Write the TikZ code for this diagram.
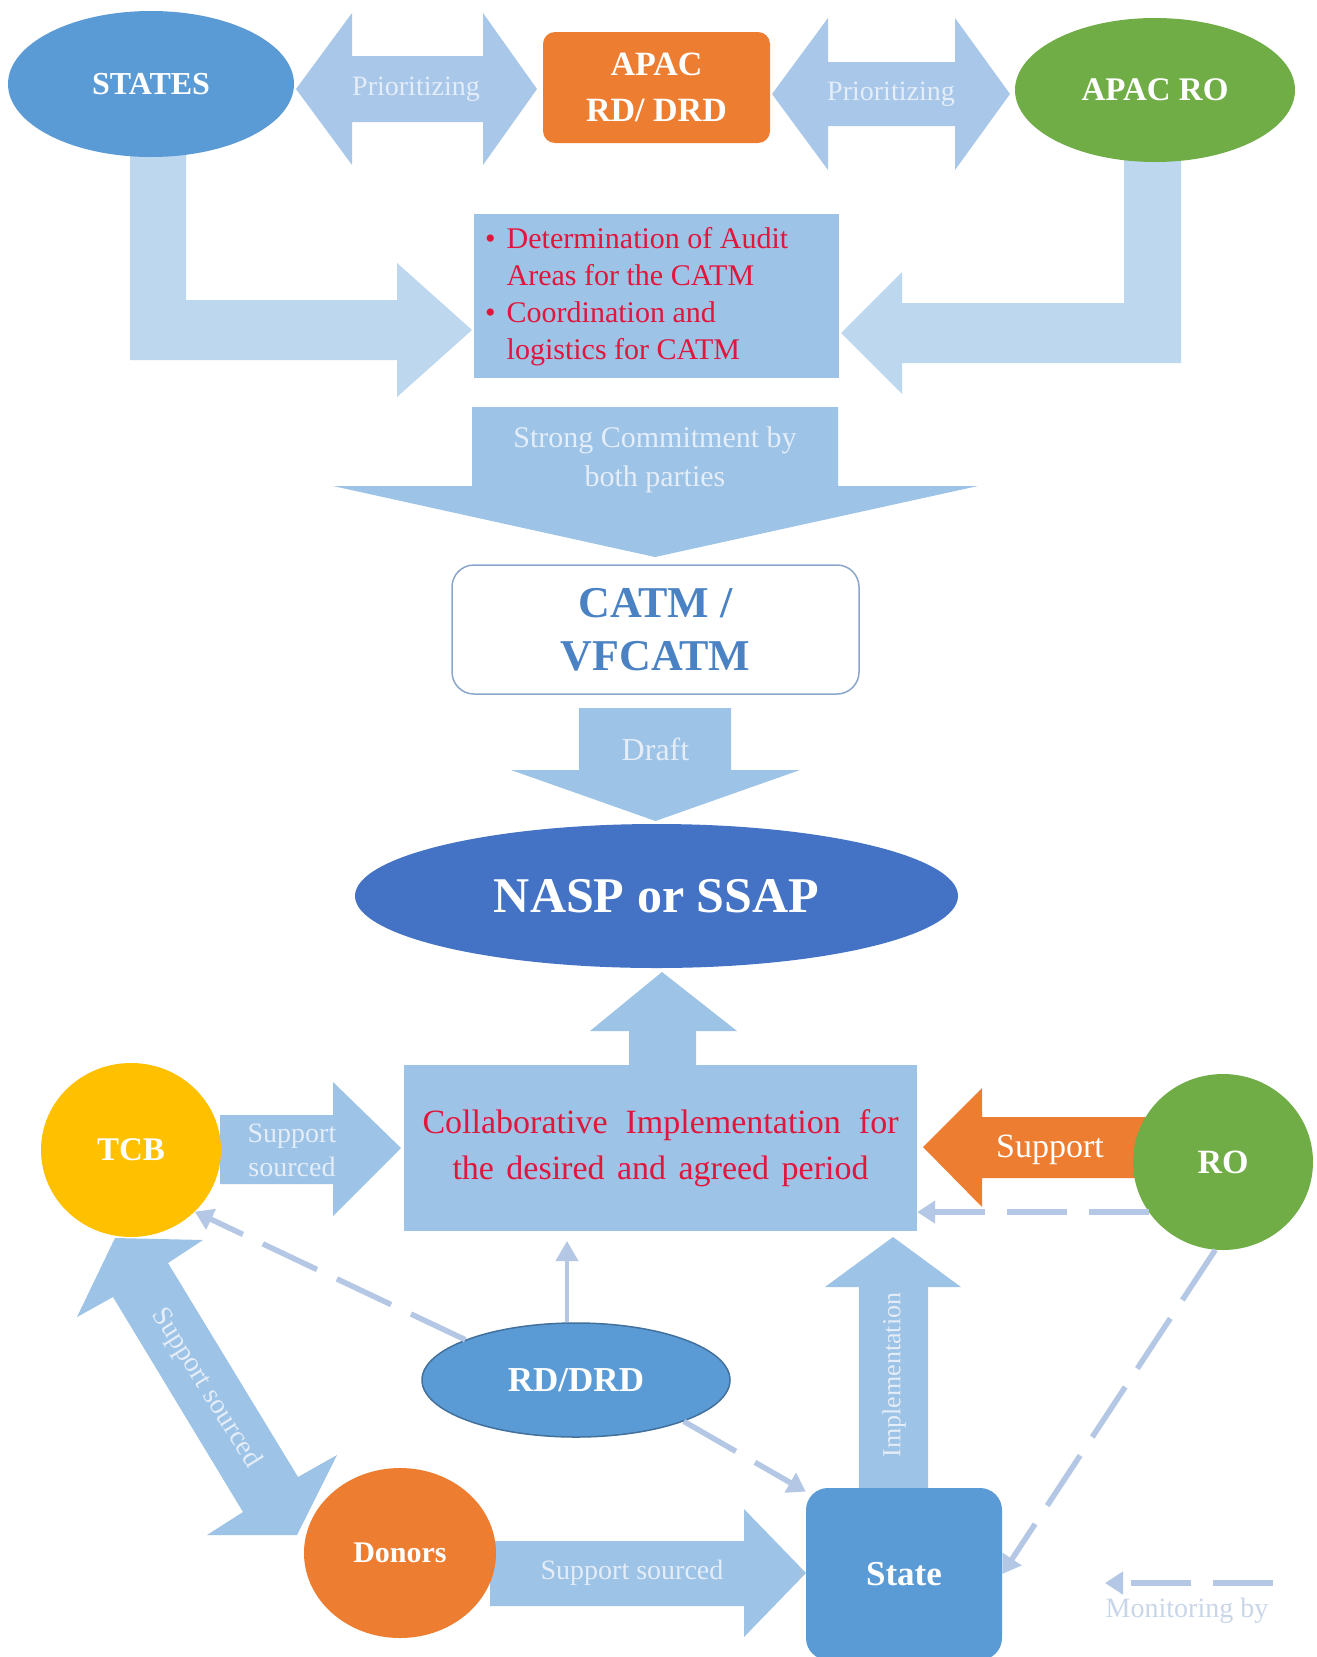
\documentclass[tikz,border=0pt]{standalone}
\usepackage{fontspec}
\setmainfont{Liberation Serif}
\usetikzlibrary{arrows.meta,shapes.geometric}
\definecolor{arrowblue}{HTML}{9DC3E6}
\definecolor{priblue}{HTML}{A9C8E9}
\definecolor{lblue}{HTML}{BDD7EE}
\definecolor{stblue}{HTML}{5B9BD5}
\definecolor{orng}{HTML}{ED7D31}
\definecolor{grn}{HTML}{70AD47}
\definecolor{naspblue}{HTML}{4472C4}
\definecolor{tcbyellow}{HTML}{FFC000}
\definecolor{redtxt}{HTML}{E0163C}
\definecolor{catmtxt}{HTML}{4A82C3}
\definecolor{lbltext}{HTML}{E4EDF8}
\definecolor{monit}{HTML}{B4C8E6}
\definecolor{montext}{HTML}{C9D6E8}
\definecolor{rdborder}{HTML}{41719C}
\definecolor{catmborder}{HTML}{8AA6CC}
\newcommand\fsz[2]{\fontsize{#1}{#2}\selectfont}
\begin{document}
\begin{tikzpicture}[x=1pt,y=-1pt,
  lbl/.style={text=lbltext, align=center, inner sep=0pt},
  oval/.style={ellipse, text=white, inner sep=0pt, align=center},
  box/.style={rectangle, inner sep=0pt, align=center},
  monitor/.style={draw=monit, line width=5.5pt, dash pattern=on 60pt off 22pt, -{Triangle[length=18pt,width=22pt]}},
  thinarr/.style={draw=monit, line width=4pt, -{Triangle[length=20pt,width=22pt]}},
]
\fill[white] (0,0) rectangle (1317,1657);
\useasboundingbox (0,0) rectangle (1317,1657);

% ---------- top block arrows ----------
\fill[priblue] (296,89) -- (352,13) -- (352,56) -- (483,56) -- (483,13) -- (537,89)
  -- (483,165) -- (483,122) -- (352,122) -- (352,165) -- cycle;
\fill[priblue] (772,94) -- (828,18) -- (828,62) -- (955,62) -- (955,18) -- (1010,94)
  -- (955,170) -- (955,126) -- (828,126) -- (828,170) -- cycle;
\fill[lblue] (130,140) -- (186,140) -- (186,300) -- (397,300) -- (397,263) -- (472,330)
  -- (397,397) -- (397,360) -- (130,360) -- cycle;
\fill[lblue] (1181,150) -- (1124,150) -- (1124,303) -- (902,303) -- (902,272) -- (841,333)
  -- (902,394) -- (902,363) -- (1181,363) -- cycle;
\fill[arrowblue] (472,407) -- (838,407) -- (838,486) -- (978,486) -- (655,557) -- (333,486)
  -- (472,486) -- cycle;
\fill[arrowblue] (579,708) -- (731,708) -- (731,770) -- (800,770) -- (655.5,821) -- (511,770)
  -- (579,770) -- cycle;

% ---------- top nodes ----------
\node[oval, fill=stblue, minimum width=286, minimum height=146, font=\bfseries\fsz{32}{38}] (states) at (151,84) {STATES};
\node[box, rounded corners=12pt, fill=orng, minimum width=227, minimum height=111, text=white, font=\bfseries\fsz{34}{46}] (apac) at (656.5,87.5) {APAC\\RD/ DRD};
\node[oval, fill=grn, minimum width=280, minimum height=144, font=\bfseries\fsz{33}{38}] (apacro) at (1155,90) {APAC RO};
\node[lbl, font=\fsz{28}{34}] (pri1) at (416,89) {Prioritizing};
\node[lbl, font=\fsz{28}{34}] (pri2) at (891,94) {Prioritizing};

\node[box, fill=arrowblue, minimum width=365, minimum height=164] (audit) at (656.5,296) {};
\node[text=redtxt, font=\fsz{30}{37}, anchor=west, inner sep=0pt] (audittxt) at (485,297)
  {\begin{tabular}{@{}l@{\hspace{11pt}}l@{}}\textbullet & Determination of Audit\\ & Areas for the CATM\\ \textbullet & Coordination and\\ & logistics for CATM\end{tabular}};

\node[lbl, font=\fsz{30}{39}] (commit) at (655,460) {Strong Commitment by\\both parties};
\node[box, rounded corners=22pt, draw=catmborder, line width=1.5pt, fill=white, minimum width=407, minimum height=129, text=catmtxt, font=\bfseries\fsz{44}{53}] (catm) at (655.5,629.5) {CATM /\\VFCATM};
\node[lbl, font=\fsz{32}{38}] (draft) at (655.5,749) {Draft};
\node[oval, fill=naspblue, minimum width=603, minimum height=144, font=\bfseries\fsz{50}{56}] (nasp) at (656.5,896) {NASP or SSAP};

% ---------- lower block arrows ----------
\fill[arrowblue] (629,1066) -- (629,1031) -- (590,1031) -- (662,972) -- (737,1031) -- (696,1031) -- (696,1066) -- cycle;
\fill[arrowblue] (220,1115) -- (333,1115) -- (333,1082) -- (401,1148) -- (333,1216) -- (333,1184) -- (220,1184) -- cycle;
\fill[orng] (1150,1117) -- (982,1117) -- (982,1088) -- (923,1147) -- (982,1207) -- (982,1178) -- (1150,1178) -- cycle;
\fill[arrowblue] (859,1490) -- (859,1287) -- (825,1287) -- (893,1237) -- (961,1287) -- (928,1287) -- (928,1490) -- cycle;
\fill[arrowblue] (490,1541) -- (744,1541) -- (744,1509) -- (806,1573) -- (744,1637) -- (744,1606) -- (490,1606) -- cycle;
\fill[arrowblue] (115,1238) -- (203,1240) -- (168,1263) -- (298,1477) -- (337,1455) -- (297,1535)
  -- (207,1535) -- (243,1512) -- (113,1297) -- (77,1317) -- cycle;

% ---------- lower nodes ----------
\node[box, fill=arrowblue, minimum width=513, minimum height=166, text=redtxt, font=\fsz{34}{46}] (collab) at (660.5,1148)
  {\makebox[476pt][s]{Collaborative Implementation for}\\\makebox[416pt][s]{the desired and agreed period}};
\node[oval, fill=tcbyellow, minimum width=180, minimum height=174, font=\bfseries\fsz{33}{38}] (tcb) at (131,1150) {TCB};
\node[oval, fill=grn, minimum width=180, minimum height=176, font=\bfseries\fsz{34}{38}] (ro) at (1223,1162) {RO};
\node[oval, fill=stblue, draw=rdborder, line width=1.5pt, minimum width=308, minimum height=114, font=\bfseries\fsz{35}{40}] (rd) at (576,1380) {RD/DRD};
\node[box, rounded corners=22pt, fill=stblue, minimum width=196, minimum height=172, text=white, font=\bfseries\fsz{35}{40}] (state) at (904,1574) {State};
\node[oval, fill=orng, minimum width=192, minimum height=170, font=\bfseries\fsz{30}{36}] (donors) at (400,1553) {Donors};

\node[lbl, font=\fsz{28}{34}] (sup1) at (292,1150) {Support\\sourced};
\node[text=white, inner sep=0pt, font=\fsz{34}{40}] (sup2) at (1050,1150) {Support};
\node[lbl, font=\fsz{26}{30}, rotate=90] (impl) at (894,1375) {Implementation};
\node[lbl, font=\fsz{28}{34}] (sup3) at (632,1573) {Support sourced};
\node[lbl, font=\fsz{28}{34}, rotate=-58] (sup4) at (206,1388) {Support sourced};

% ---------- connectors ----------
\coordinate (rdtip) at (567,1241);
\draw[thinarr] (rd.north -| rdtip) -- (rdtip);
\draw[monitor] (ro.214) -- (collab.east |- ro.214);
\draw[monitor] (rd.160) -- (tcb.-44);
\draw[monitor] (rd.-21) -- (state.140);
\draw[monitor] (ro.-95) -- (state.east);

% ---------- legend ----------
\coordinate (lg1) at (1273,1583);
\coordinate (lg2) at (1105,1583);
\draw[monitor] (lg1) -- (lg2);
\node[text=montext, inner sep=0pt, font=\fsz{28}{34}] (lgtxt) at (1187,1611) {Monitoring by};
\end{tikzpicture}
\end{document}
